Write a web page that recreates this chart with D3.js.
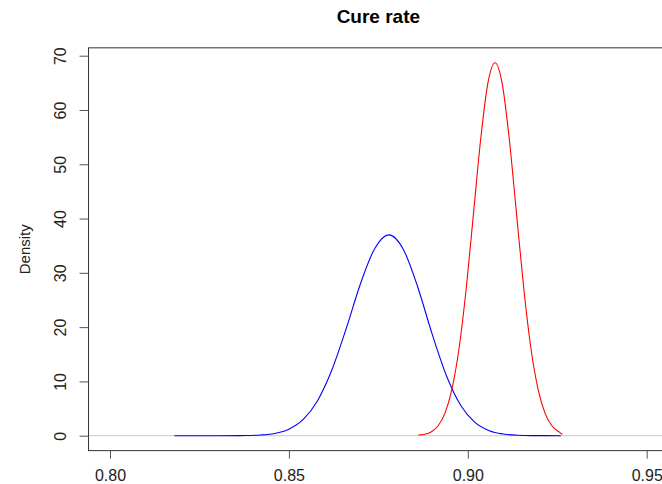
<!DOCTYPE html>
<html>
<head>
<meta charset="utf-8">
<script src="https://cdn.jsdelivr.net/npm/d3@7"></script>
<style>
  body { margin: 0; background: #fff; }
  svg text { font-family: "Liberation Sans", Arial, sans-serif; }
</style>
</head>
<body>
<svg id="chart" width="662" height="484"></svg>
<script>
// density curves
const blueX = [0.818, 0.830, 0.838, 0.842, 0.846, 0.850, 0.854, 0.858, 0.862, 0.866, 0.870, 0.874, 0.878,
               0.882, 0.886, 0.890, 0.894, 0.898, 0.902, 0.906, 0.910, 0.914, 0.918, 0.926];
const blueY = [0, 0.001, 0.034, 0.13, 0.42, 1.21, 2.99, 6.45, 12.1, 19.7, 28.0, 34.5, 37.0,
               34.3, 27.4, 18.8, 11.1, 5.62, 2.45, 0.92, 0.30, 0.08, 0.02, 0];

const redX = [0.8862, 0.8876, 0.8896, 0.8916, 0.8936, 0.8956, 0.8976, 0.8996, 0.9016, 0.9036, 0.9056, 0.9076,
              0.9096, 0.9116, 0.9136, 0.9156, 0.9176, 0.9196, 0.9216, 0.9236, 0.9256, 0.9264];
const redY = [0.10, 0.22, 0.65, 1.74, 4.11, 8.69, 16.3, 27.4, 41.0, 54.6, 64.9, 68.7,
              64.9, 54.6, 41.0, 27.4, 16.3, 8.69, 4.11, 1.74, 0.65, 0.25];

const xTicks = [0.80, 0.85, 0.90, 0.95];
const yTicks = [0, 10, 20, 30, 40, 50, 60, 70];
const title = "Cure rate", yLabel = "Density";

const svg = d3.select("#chart");

const x = d3.scaleLinear().domain([0.80, 0.95]).range([110, 646.7]);
const y = d3.scaleLinear().domain([0, 70]).range([435.7, 55.7]);

// plot region (R usr), extends past the right edge
const box = { x0: x(0.794), x1: x(0.956), y0: y(71.45), y1: y(-2.75) };

// abline at 0
svg.append("line")
    .attr("x1", box.x0).attr("x2", box.x1)
    .attr("y1", y(0)).attr("y2", y(0))
    .attr("stroke", "#c8c8c8")
    .attr("stroke-width", 1);

const line = d3.line()
    .x(d => x(d[0]))
    .y(d => y(d[1]))
    .curve(d3.curveMonotoneX);

svg.append("path")
    .datum(blueX.map((v, i) => [v, blueY[i]]))
    .attr("fill", "none")
    .attr("stroke", "#0000ff")
    .attr("stroke-width", 1.1)
    .attr("d", line);

svg.append("path")
    .datum(redX.map((v, i) => [v, redY[i]]))
    .attr("fill", "none")
    .attr("stroke", "#ff0000")
    .attr("stroke-width", 1.1)
    .attr("d", line);

svg.append("rect")
    .attr("x", box.x0).attr("y", box.y0)
    .attr("width", box.x1 - box.x0).attr("height", box.y1 - box.y0)
    .attr("fill", "none")
    .attr("stroke", "#333")
    .attr("stroke-width", 1);

const xAxis = g => g
    .attr("transform", `translate(0,${box.y1})`)
    .call(d3.axisBottom(x).tickValues(xTicks).tickFormat(d3.format(".2f")).tickSize(8).tickPadding(11))
    .call(g => g.select(".domain").remove())
    .call(g => g.selectAll(".tick line").attr("stroke", "#555"))
    .call(g => g.selectAll(".tick text")
        .attr("fill", "#222")
        .attr("font-size", 16)
        .attr("font-family", "Liberation Sans, Arial, sans-serif"));

const yAxis = g => g
    .attr("transform", `translate(${box.x0},0)`)
    .call(d3.axisLeft(y).tickValues(yTicks).tickSize(9))
    .call(g => g.select(".domain").remove())
    .call(g => g.selectAll(".tick line").attr("stroke", "#555"))
    .call(g => g.selectAll(".tick text")
        .attr("fill", "#222")
        .attr("font-size", 16)
        .attr("font-family", "Liberation Sans, Arial, sans-serif")
        .attr("x", null).attr("dy", null)
        .attr("text-anchor", "middle")
        .attr("transform", "translate(-23,0) rotate(-90)"));

svg.append("g").call(xAxis);
svg.append("g").call(yAxis);

svg.append("text")
    .attr("x", (box.x0 + box.x1) / 2)
    .attr("y", 23)
    .attr("text-anchor", "middle")
    .attr("font-size", 19)
    .attr("font-weight", "bold")
    .attr("fill", "#000")
    .text(title);

svg.append("text")
    .attr("transform", `translate(30,${(box.y0 + box.y1) / 2}) rotate(-90)`)
    .attr("text-anchor", "middle")
    .attr("font-size", 15)
    .attr("fill", "#222")
    .text(yLabel);
</script>
</body>
</html>
